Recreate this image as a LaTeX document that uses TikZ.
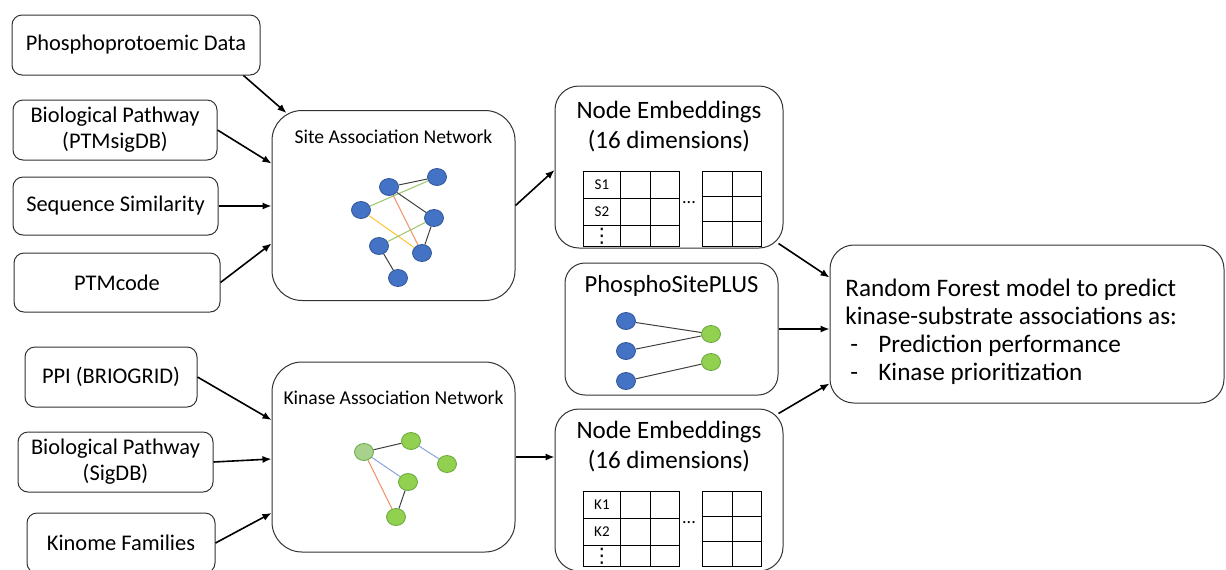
\documentclass[tikz,border=0pt]{standalone}
\usepackage{fontspec}
\setmainfont{Carlito}
\newfontfamily\symfont{DejaVu Sans}
\usetikzlibrary{matrix}
\usetikzlibrary{positioning}
\usetikzlibrary{calc}
\usetikzlibrary{arrows.meta}
\usetikzlibrary{shapes.geometric}

\definecolor{siteblue}{HTML}{4472C4}
\definecolor{sitebluedark}{HTML}{2F5597}
\definecolor{kingreen}{HTML}{92D050}
\definecolor{kingreendark}{HTML}{66A83A}
\definecolor{kinpale}{HTML}{A9D18E}
\definecolor{edgegreen}{HTML}{9BC46B}
\definecolor{edgeorange}{HTML}{F19067}
\definecolor{edgeyellow}{HTML}{FFC533}
\definecolor{edgeblue}{HTML}{8AA5D8}
\definecolor{edgedark}{HTML}{404040}

% vertical ellipsis for the first column of the tables
\newcommand{\tbldots}{{\symfont\fontsize{10}{10}\selectfont ⋮}}

\begin{document}
\begin{tikzpicture}
  [x=0.5pt, y=-0.5pt,
   src/.style={draw=black!80, line width=0.5pt, rounded corners=5pt, align=center,
     inner sep=0pt, font=\fontsize{11.2}{13}\selectfont},
   net/.style={draw=black!80, line width=0.5pt, rounded corners=15pt,
     minimum width=121.5pt, minimum height=95pt},
   embbox/.style={draw=black!80, line width=0.5pt, rounded corners=12pt,
     minimum width=114pt, minimum height=81pt},
   nettitle/.style={anchor=base, inner sep=0pt, font=\fontsize{9.8}{11}\selectfont},
   embtitle/.style={anchor=north, inner sep=0pt, align=center,
     font=\fontsize{12.5}{15}\selectfont},
   tbl/.style={matrix of nodes, inner sep=0pt, anchor=north west, line width=0.7pt,
     nodes={draw, inner sep=0pt, anchor=center, font=\fontsize{7.5}{8}\selectfont},
     column sep=-\pgflinewidth,
     row sep=-\pgflinewidth,
     nodes in empty cells,
     row 1/.style={nodes={minimum height=13.5pt}},
     row 2/.style={nodes={minimum height=13.5pt}},
     row 3/.style={nodes={minimum height=10.5pt}},
     column 1/.style={nodes={minimum width=18.5pt}},
     column 2/.style={nodes={minimum width=15pt}},
     column 3/.style={nodes={minimum width=14.5pt}},
   },
   tblside/.style={matrix of nodes, inner sep=0pt, anchor=north west, line width=0.7pt,
     nodes={draw, inner sep=0pt, anchor=center, minimum height=12.5pt},
     column sep=-\pgflinewidth,
     row sep=-\pgflinewidth,
     nodes in empty cells,
     column 1/.style={nodes={minimum width=15pt}},
     column 2/.style={nodes={minimum width=14.5pt}},
   },
   dotsmid/.style={inner sep=0pt, font=\fontsize{9}{9}\selectfont},
   sitenode/.style={ellipse, fill=siteblue, draw=sitebluedark, line width=0.4pt,
     minimum width=9.5pt, minimum height=8.5pt, inner sep=0pt},
   kinnode/.style={ellipse, fill=kingreen, draw=kingreendark, line width=0.4pt,
     minimum width=9.5pt, minimum height=8.5pt, inner sep=0pt},
   edge/.style={line width=0.5pt},
   flow/.style={-{Latex[length=4.5pt,width=3.6pt]}, line width=0.8pt},
  ]
  \path[use as bounding box, fill=white] (0,0) rectangle (1226,569);

  % inputs of the site network
  \node[src, minimum width=124pt, minimum height=30pt] (phos) at (136,45) {Phosphoprotoemic Data};
  \node[src, minimum width=102pt, minimum height=30pt] (pwsite) at (115,130) {Biological Pathway\\(PTMsigDB)};
  \node[src, minimum width=102.5pt, minimum height=29pt] (seqsim) at (115.5,206) {Sequence Similarity};
  \node[src, minimum width=103pt, minimum height=29.5pt] (ptmcode) at (117,282.5) {PTMcode};

  % inputs of the kinase network
  \node[src, minimum width=86pt, minimum height=30pt] (ppi) at (111,377) {PPI (BRIOGRID)};
  \node[src, minimum width=97.5pt, minimum height=30pt] (pwkin) at (115.5,462) {Biological Pathway\\(SigDB)};
  \node[src, minimum width=94pt, minimum height=30pt] (kinome) at (121,543) {Kinome Families};

  % the two association networks
  \node[net] (site) at (393.5,205.5) {};
  \node[nettitle] (sitetitle) at ($(site.north)+(0,33)$) {Site Association Network};
  \node[net] (kinnet) at (393.5,457) {};
  \node[nettitle] (kintitle) at ($(kinnet.north)+(0,43)$) {Kinase Association Network};

  \node[sitenode] (s1) at (389,187) {};
  \node[sitenode] (s2) at (437,177) {};
  \node[sitenode] (s3) at (361,210) {};
  \node[sitenode] (s4) at (434,218) {};
  \node[sitenode] (s5) at (379,246) {};
  \node[sitenode] (s6) at (422,253) {};
  \node[sitenode] (s7) at (398,278) {};
  \draw[edge, edgedark] (s1) -- (s2);
  \draw[edge, edgegreen] (s3) -- (s2);
  \draw[edge, edgedark] (s1) -- (s4);
  \draw[edge, edgeorange] (s1) -- (s6);
  \draw[edge, edgeyellow] (s3) -- (s6);
  \draw[edge, edgegreen] (s5) -- (s4);
  \draw[edge, edgedark] (s4) -- (s6);
  \draw[edge, edgedark] (s5) -- (s7);

  \node[kinnode, fill=kinpale] (k1) at (364,452) {};
  \node[kinnode] (k2) at (411,441) {};
  \node[kinnode] (k3) at (447,464) {};
  \node[kinnode] (k4) at (408,482) {};
  \node[kinnode] (k5) at (396,517) {};
  \draw[edge, edgedark] (k1) -- (k2);
  \draw[edge, edgeblue] (k2) -- (k3);
  \draw[edge, edgeblue] (k1) -- (k4);
  \draw[edge, edgeorange] (k1) -- (k5);
  \draw[edge, edgedark] (k4) -- (k5);

  % node embeddings, sites on top and kinases below
  \node[embbox] (embsite) at (669,167) {};
  \node[embtitle] (embsitetitle) at ($(embsite.north)+(0,15)$) {Node Embeddings\\(16 dimensions)};
  \matrix[tbl] (tblsite) at (582,170)
         {
           S1       & & \\
           S2       & & \\
           \tbldots & & \\
         };
  \node[dotsmid] (dotssite) at (689,203) {...};
  \matrix[tblside] (tblsiteend) at (701,170)
         {
           & \\
           & \\
           & \\
         };

  \node[embbox] (embkin) at (669,490) {};
  \node[embtitle] (embkintitle) at ($(embkin.north)+(0,12)$) {Node Embeddings\\(16 dimensions)};
  \matrix[tbl] (tblkin) at (582,490)
         {
           K1       & & \\
           K2       & & \\
           \tbldots & & \\
         };
  \node[dotsmid] (dotskin) at (689,523) {...};
  \matrix[tblside] (tblkinend) at (701,490)
         {
           & \\
           & \\
           & \\
         };

  % known kinase-substrate pairs
  \node[draw=black!80, line width=0.5pt, rounded corners=10pt,
        minimum width=106.5pt, minimum height=66pt] (psp) at (671.5,329) {};
  \node[nettitle, font=\fontsize{12.3}{14}\selectfont] (psptitle) at ($(psp.north)+(0,30)$) {PhosphoSitePLUS};
  \node[sitenode] (p1) at (626,321) {};
  \node[sitenode] (p2) at (626,351) {};
  \node[sitenode] (p3) at (626,381) {};
  \node[kinnode] (q1) at (711,334) {};
  \node[kinnode] (q2) at (711,362) {};
  \draw[edge, edgedark] (p1) -- (q1);
  \draw[edge, edgedark] (p2) -- (q1);
  \draw[edge, edgedark] (p3) -- (q2);

  % the model
  \node[draw=black!80, line width=0.5pt, rounded corners=12pt,
        minimum width=197pt, minimum height=79pt] (rf) at (1027,324) {};
  \node[anchor=north west, inner sep=0pt, align=left,
        font=\fontsize{12.6}{13.9}\selectfont] (rftext) at (845,279)
        {Random Forest model to predict\\
         kinase-substrate associations as:\\
         \makebox[16.5pt][l]{\hspace*{2.5pt}-}Prediction performance\\
         \makebox[16.5pt][l]{\hspace*{2.5pt}-}Kinase prioritization};

  % arrows
  \draw[flow] ($(phos.south east)+(-17,0)$) -- ($(site.north west)+(15,3)$);
  \draw[flow] (pwsite.east) -- ($(site.west)+(0,-42)$);
  \draw[flow] (seqsim.east) -- (seqsim.east -| site.west);
  \draw[flow] (ptmcode.east) -- ($(site.west)+(0,38)$);
  \draw[flow] (ppi.east) -- ($(kinnet.west)+(0,-37)$);
  \draw[flow] (pwkin.east) -- ($(kinnet.west)+(0,2)$);
  \draw[flow] (kinome.east) -- ($(kinnet.west)+(0,56)$);
  \draw[flow] (site.east) -- ($(embsite.west)+(0,3)$);
  \draw[flow] (kinnet.east) -- (kinnet.east -| embkin.west);
  \draw[flow] ($(embsite.south east)+(-5,-5)$) -- ($(rf.north west)+(0,33)$);
  \draw[flow] (psp.east) -- (psp.east -| rf.west);
  \draw[flow] ($(embkin.north east)+(-5,5)$) -- ($(rf.south west)+(0,-20)$);
\end{tikzpicture}
\end{document}
